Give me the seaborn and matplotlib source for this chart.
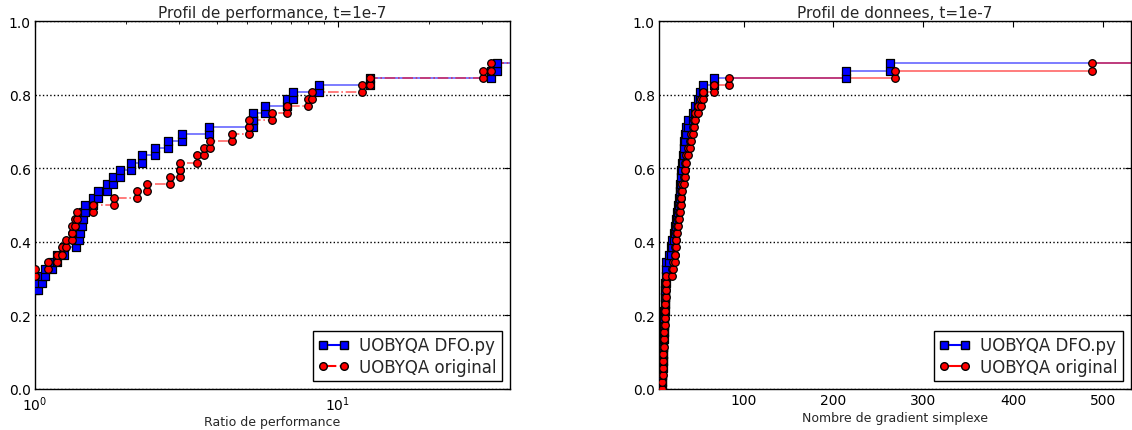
import numpy as np
import pandas as pd
import seaborn as sns
import matplotlib.pyplot as plt
from matplotlib.lines import Line2D

n_problems = 52

# performance profile (ratio at which one more problem gets solved)
perf_dfo_start = 14
perf_dfo_ratio = [1.023, 1.055, 1.079, 1.138, 1.182, 1.247, 1.366, 1.397, 1.408, 1.429,
                  1.440, 1.462, 1.554, 1.614, 1.729, 1.809, 1.908, 2.074, 2.255, 2.489,
                  2.748, 3.056, 3.752, 5.243, 5.243, 5.742, 6.787, 7.104, 8.659, 12.75,
                  32.23, 33.73]
perf_orig_start = 16
perf_orig_ratio = [1.0, 1.104, 1.182, 1.228, 1.266, 1.325, 1.325, 1.356, 1.376, 1.554,
                   1.823, 2.171, 2.343, 2.790, 3.010, 3.010, 3.424, 3.613, 3.780, 4.469,
                   5.085, 5.085, 6.056, 6.787, 7.962, 8.208, 12.00, 12.75, 30.10, 31.99]

# data profile (simplex gradients needed for one more problem)
data_dfo_grad = [9.4, 9.6, 9.8, 10.0, 10.3, 10.6, 10.9, 11.2, 11.5, 11.8, 12.1, 12.4,
                 12.7, 13.0, 13.2, 13.4, 13.5,
                 13.6, 17, 19.5, 21, 23, 24, 24.6, 25.8, 26.9, 28,
                 29, 29.5, 30, 31, 32, 33, 33.5, 34, 34.6, 36,
                 38, 43.4, 46, 49, 52, 54.5, 67.7, 214, 263]
data_orig_grad = [9.6, 9.8, 10.0, 10.3, 10.6, 10.9, 11.2, 11.6, 12.0, 12.3, 12.6, 12.9,
                  13.2, 13.5, 13.9, 14.3,
                  20.5, 22, 23.3, 24, 24.6, 25.2, 25.8, 27, 28, 29,
                  30, 31, 32, 33.3, 34.6, 35.2, 35.7, 38, 40.1, 42,
                  43.4, 44.5, 45.6, 49, 52.3, 54.5, 67.7, 84.3, 268, 488]

labels = ["UOBYQA DFO.py", "UOBYQA original"]


def step_vertices(x0, start, values):
    xs, ys = [], []
    if start:
        xs.append(x0)
        ys.append(start / n_problems)
    k = start
    for v in values:
        xs += [v, v]
        ys += [k / n_problems, (k + 1) / n_problems]
        k += 1
    return xs, ys


def draw_profile(ax, curves, xmax, styles):
    for (x0, start, vals), (col, mk, ls) in zip(curves, styles):
        xs, ys = step_vertices(x0, start, vals)
        line = pd.DataFrame({"x": xs + [xmax], "y": ys + [ys[-1]]})
        pts = pd.DataFrame({"x": xs, "y": ys})
        sns.lineplot(data=line, x="x", y="y", ax=ax, sort=False, estimator=None,
                     color=col, linestyle=ls, linewidth=1.2, alpha=0.6)
        sns.scatterplot(data=pts, x="x", y="y", ax=ax, marker=mk, color=col,
                        edgecolor="k", linewidth=0.9, s=30, zorder=3, clip_on=True)


sns.set_style("white")
plt.rcParams["font.family"] = ["DejaVu Sans"]

fig = plt.figure(figsize=(11.32, 4.31), dpi=100)
ax1 = fig.add_axes([35 / 1132, 41 / 431, 475 / 1132, 368 / 431])
ax2 = fig.add_axes([659 / 1132, 41 / 431, 472 / 1132, 368 / 431])

# left: performance profile
xmax1 = 1.1 * max(perf_dfo_ratio)
ax1.set_xscale("log")
draw_profile(ax1,
             [(1.0, perf_dfo_start, perf_dfo_ratio), (1.0, perf_orig_start, perf_orig_ratio)],
             xmax1, [("b", "s", "-"), ("r", "o", "-.")])
ax1.set_xlim(1, xmax1)
ax1.set_title("Profil de performance, t=1e-7", fontsize=11, pad=3)
ax1.set_xlabel("Ratio de performance", fontsize=9, labelpad=1)

# right: data profile
xmax2 = 531
draw_profile(ax2,
             [(0, 0, data_dfo_grad), (0, 0, data_orig_grad)],
             xmax2, [("b", "s", "-"), ("r", "o", "-")])
ax2.set_xlim(6, xmax2)
ax2.set_xticks([100, 200, 300, 400, 500])
ax2.set_title("Profil de donnees, t=1e-7", fontsize=11, pad=3)
ax2.set_xlabel("Nombre de gradient simplexe", fontsize=9, labelpad=3)

for ax, ls_red in [(ax1, "-."), (ax2, "-")]:
    ax.set_ylim(0, 1)
    ax.set_yticks(np.arange(0, 1.01, 0.2))
    ax.set_ylabel("")
    ax.yaxis.grid(True, linestyle=":", color="k", linewidth=1)
    ax.xaxis.grid(False)
    for s in ax.spines.values():
        s.set_color("k")
        s.set_linewidth(1)
    ax.tick_params(which="both", direction="in", top=True, right=True, labelsize=10,
                   colors="k", pad=3)
    ax.tick_params(which="major", length=4)
    ax.tick_params(which="minor", length=2)
    handles = [Line2D([], [], color="b", marker="s", mfc="b", mec="k", ls="-", ms=5.5),
               Line2D([], [], color="r", marker="o", mfc="r", mec="k", ls=ls_red, ms=5.5)]
    ax.legend(handles, labels, loc="lower right", numpoints=2, fontsize=12,
              fancybox=False, framealpha=1, edgecolor="k", handlelength=1.9,
              handletextpad=0.6, borderpad=0.3, labelspacing=0.2)

ax1.tick_params(axis="x", which="both", pad=4)

fig.savefig("out.png", dpi=100)
